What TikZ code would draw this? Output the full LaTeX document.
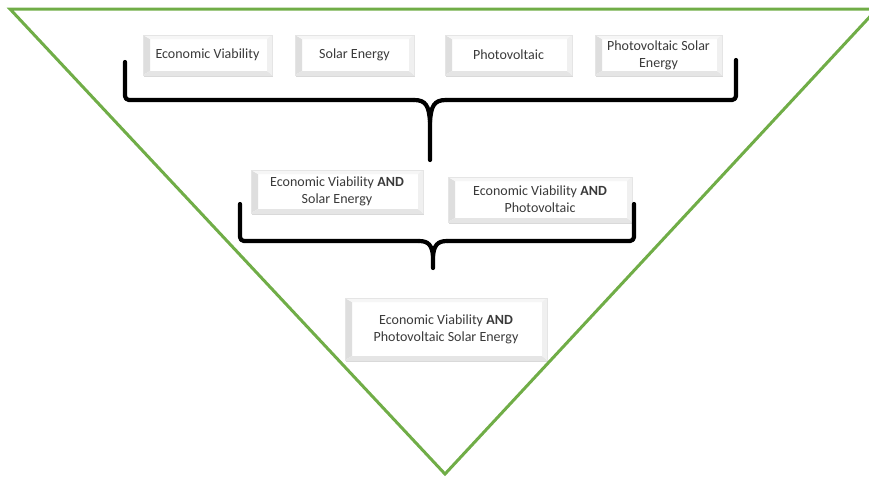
\documentclass[tikz,border=0pt]{standalone}
\usepackage{fontspec}
\setmainfont{Carlito}
\usetikzlibrary{calc,shadows}
\definecolor{tri}{HTML}{70AD47}
\definecolor{txt}{HTML}{3A3A3A}
\tikzset{
  bevbox/.style={draw=gray!20, line width=0.3pt, fill=white, text=txt, align=center,
    font=\fontsize{14}{17}\selectfont, inner sep=0pt,
    drop shadow={shadow xshift=1.2pt, shadow yshift=-2pt, opacity=0.3, fill=gray},
    path picture={
      \fill[gray!26] (path picture bounding box.north west) -- (path picture bounding box.south west)
        -- ($(path picture bounding box.south west)+(7pt,4pt)$) -- ($(path picture bounding box.north west)+(7pt,-4pt)$) -- cycle;
      \fill[gray!7] (path picture bounding box.north west) -- (path picture bounding box.north east)
        -- ($(path picture bounding box.north east)+(-5pt,-4pt)$) -- ($(path picture bounding box.north west)+(7pt,-4pt)$) -- cycle;
      \fill[gray!20] (path picture bounding box.south west) -- (path picture bounding box.south east)
        -- ($(path picture bounding box.south east)+(-5pt,4pt)$) -- ($(path picture bounding box.south west)+(7pt,4pt)$) -- cycle;
      \fill[gray!12] (path picture bounding box.north east) -- (path picture bounding box.south east)
        -- ($(path picture bounding box.south east)+(-5pt,4pt)$) -- ($(path picture bounding box.north east)+(-5pt,-4pt)$) -- cycle;
    }},
  brace/.style={line width=4.2pt, black, line cap=round, line join=round, rounded corners=4pt},
  bracecurl/.style={line width=4.2pt, black, line cap=round},
  trianglepath/.style={draw=tri, line width=3pt, line join=miter}
}
\begin{document}
\begin{tikzpicture}[x=1pt,y=-1pt]
\useasboundingbox (0,0) rectangle (869,477);
% triangle
\coordinate (tl) at (10,9);
\coordinate (tr) at (877,9);
\coordinate (ap) at (445,474);
\draw[trianglepath] (tl) -- (tr) -- (ap) -- cycle;

% top row
\node[bevbox, minimum width=129, minimum height=40] (ev) at (207.5,55) {Economic Viability};
\node[bevbox, minimum width=119, minimum height=40] (se) at (354.5,55) {Solar Energy};
\node[bevbox, minimum width=127, minimum height=40] (pv) at (508.5,55) {Photovoltaic};
\node[bevbox, minimum width=127, minimum height=40] (pvse) at (658.5,55) {Photovoltaic Solar\\Energy};

% middle row
\node[bevbox, minimum width=172, minimum height=43] (evse) at (337,191.5) {Economic Viability \textbf{AND}\\Solar Energy};
\node[bevbox, minimum width=184, minimum height=45] (evpv) at (540,199.5) {Economic Viability \textbf{AND}\\Photovoltaic};

% bottom
\node[bevbox, minimum width=202, minimum height=62] (fin) at (446,329) {Economic Viability \textbf{AND}\\Photovoltaic Solar Energy};

% brace 1
\coordinate (b1l) at (125,62);
\coordinate (b1r) at (736,60);
\coordinate (b1t) at (430,160);
\draw[brace] (b1l) -- (125,100) -- (414,100);
\draw[brace] (b1r) -- (736,100) -- (446,100);
\draw[bracecurl] (414,100) .. controls (426,100) and (429,106) .. (430,122) -- (b1t);
\draw[bracecurl] (446,100) .. controls (434,100) and (431,106) .. (430,122);

% brace 2
\coordinate (b2l) at (240,204);
\coordinate (b2r) at (634,204);
\coordinate (b2t) at (433,268);
\draw[brace] (b2l) -- (240,241) -- (419,241);
\draw[brace] (b2r) -- (634,241) -- (447,241);
\draw[bracecurl] (419,241) .. controls (429,241) and (432,246) .. (433,256) -- (b2t);
\draw[bracecurl] (447,241) .. controls (437,241) and (434,246) .. (433,256);
\end{tikzpicture}
\end{document}
